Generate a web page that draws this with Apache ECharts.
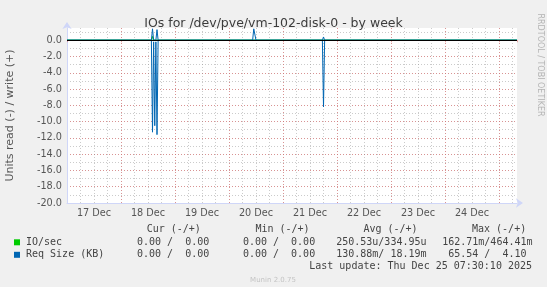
<!DOCTYPE html>
<html><head><meta charset="utf-8">
<script src="https://cdn.jsdelivr.net/npm/echarts@6/dist/echarts.min.js"></script>
<style>html,body{margin:0;padding:0;background:#F0F0F0;}#c{width:547px;height:287px;}</style>
</head><body><div id="c"></div>
<script>
// ---- data ----
const chartTitle = 'IOs for /dev/pve/vm-102-disk-0 - by week';
const yAxisTitle = 'Units read (-) / write (+)';
const watermark = 'RRDTOOL / TOBI OETIKER';
const footer = 'Munin 2.0.75';
const lastUpdate = 'Last update: Thu Dec 25 07:30:10 2025';
const dayLabels = ['17 Dec', '18 Dec', '19 Dec', '20 Dec', '21 Dec', '22 Dec', '23 Dec', '24 Dec'];
const xStart = '2025-12-17 00:00';
const xEnd = '2025-12-25 08:00';
const yMin = -20, yMax = 1.5;

const ioReadTimes = ['2025-12-17 00:00', '2025-12-18 13:30', '2025-12-18 14:00', '2025-12-18 14:30', '2025-12-25 08:00'];
const ioReadValues = [0, 0, -0.16, 0, 0];
const ioWriteTimes = ['2025-12-17 00:00', '2025-12-18 13:30', '2025-12-18 14:00', '2025-12-18 14:30', '2025-12-25 08:00'];
const ioWriteValues = [0, 0, 0.46, 0, 0];

const reqReadTimes = ['2025-12-17 00:00', '2025-12-18 13:30', '2025-12-18 14:00', '2025-12-18 14:30', '2025-12-18 15:00',
  '2025-12-18 15:30', '2025-12-18 16:00', '2025-12-18 16:30', '2025-12-21 17:30', '2025-12-21 18:00', '2025-12-21 18:30', '2025-12-25 08:00'];
const reqReadValues = [0, 0, -11.3, -0.2, -10.5, -0.2, -11.6, 0, 0, -8.2, 0, 0];
const reqWriteTimes = ['2025-12-17 00:00', '2025-12-18 13:30', '2025-12-18 14:00', '2025-12-18 14:30', '2025-12-18 15:30',
  '2025-12-18 16:00', '2025-12-18 16:30', '2025-12-20 10:30', '2025-12-20 11:00', '2025-12-20 11:30', '2025-12-20 12:00',
  '2025-12-21 17:30', '2025-12-21 18:00', '2025-12-21 18:30', '2025-12-25 08:00'];
const reqWriteValues = [0, 0, 1.4, 0, 0, 1.3, 0, 0, 1.4, 1.4, 0, 0, 0.4, 0, 0];

const legendHeaders = ['Cur (-/+)', 'Min (-/+)', 'Avg (-/+)', 'Max (-/+)'];
const legendNames = ['IO/sec', 'Req Size (KB)'];
const ioStats = ['0.00 /  0.00', '0.00 /  0.00', '250.53u/334.95u', '162.71m/464.41m'];
const reqStats = ['0.00 /  0.00', '0.00 /  0.00', '130.88m/ 18.19m', ' 65.54 /  4.10'];

// ---- style ----
const C = { io: '#00CC00', req: '#0066B3', axis: '#CFD6F8', grid: 'rgba(140,140,140,0.45)', mgrid: 'rgba(225,110,110,0.6)', text: '#555' };
const HOUR = 3600000, DAY = 24 * HOUR;

function t(s) {
  const [d, h] = s.split(' ');
  const [Y, M, D] = d.split('-').map(Number);
  const [hh, mm] = h.split(':').map(Number);
  return Date.UTC(Y, M - 1, D, hh, mm);
}
function pairs(ts, vs) { return ts.map((s, i) => [t(s), vs[i]]); }
const xMin = t(xStart), xMax = t(xEnd);

const chart = echarts.init(document.getElementById('c'), null, { renderer: 'canvas' });
const dotted = [1, 2];
const mono = '10px "DejaVu Sans Mono"';
const gfx = [];
function txt(text, x, y, opts) {
  gfx.push(Object.assign({ type: 'text', x: x, y: y, silent: true,
    style: Object.assign({ text: text, font: mono, fill: '#444', align: 'left', verticalAlign: 'middle',
      textAlign: 'left', textVerticalAlign: 'middle' }, opts || {}) }));
}
const headerX = [146.7, 255.4, 363.4, 472];
const colX = [137, 242.9, 336.2, 442.2];
legendHeaders.forEach((h, i) => txt(h, headerX[i], 229.5));
const rowsY = [242.3, 254.8];
[ioStats, reqStats].forEach((row, r) => {
  gfx.push({ type: 'rect', silent: true, shape: { x: 14, y: rowsY[r] - 3, width: 6, height: 6 }, style: { fill: [C.io, C.req][r] } });
  txt(legendNames[r], 26, rowsY[r]);
  row.forEach((s, i) => txt(s, colX[i], rowsY[r]));
});
txt(lastUpdate, 532, 266.8, { align: 'right', textAlign: 'right' });
txt(footer, 273, 280, { font: '7px "DejaVu Sans"', fill: '#c4c4c4', align: 'center', textAlign: 'center' });
gfx.push({ type: 'text', x: 540, y: 65, rotation: -Math.PI / 2, silent: true,
  style: { text: watermark, font: '8px "DejaVu Sans"', fill: '#b4b4b4', align: 'center', verticalAlign: 'middle',
    textAlign: 'center', textVerticalAlign: 'middle' } });
gfx.push({ type: 'text', x: 10, y: 115.5, rotation: Math.PI / 2, silent: true,
  style: { text: yAxisTitle, font: '11px "DejaVu Sans"', fill: C.text, align: 'center', verticalAlign: 'middle',
    textAlign: 'center', textVerticalAlign: 'middle' } });

const baseX = { type: 'value', min: xMin, max: xMax, position: 'bottom', axisLabel: { show: false }, axisTick: { show: false }, axisLine: { show: false } };
const baseY = { type: 'value', min: yMin, max: yMax, position: 'left', axisLabel: { show: false }, axisTick: { show: false }, axisLine: { show: false } };

chart.setOption({
  animation: false,
  backgroundColor: '#F0F0F0',
  title: { text: chartTitle, left: 'center', top: 12, textStyle: { fontFamily: 'DejaVu Sans', fontSize: 12.5, fontWeight: 'normal', color: '#3c3c3c' } },
  grid: { left: 67, top: 28, width: 450, height: 175, show: true, backgroundColor: '#fff', borderWidth: 0, containLabel: false, outerBoundsMode: 'none' },
  xAxis: [
    Object.assign({}, baseX, { interval: 6 * HOUR,
      splitLine: { show: true, showMinLine: false, showMaxLine: false, lineStyle: { color: C.grid, type: dotted, width: 1 } },
      axisLabel: { show: true, margin: 5, color: C.text, fontFamily: 'DejaVu Sans', fontSize: 9.7,
        formatter: v => { const off = v - xMin; return (off % DAY === 12 * HOUR) ? (dayLabels[Math.floor(off / DAY)] || '') : ''; } },
      axisLine: { show: true, onZero: false, lineStyle: { color: C.axis, width: 1 }, symbol: ['none', 'arrow'], symbolSize: [7, 7], symbolOffset: [0, 6] } }),
    Object.assign({}, baseX, { interval: DAY,
      splitLine: { show: true, showMinLine: false, showMaxLine: false, lineStyle: { color: C.mgrid, type: dotted, width: 1 } },
      axisTick: { show: true, length: 2, lineStyle: { color: C.mgrid } } })
  ],
  yAxis: [
    Object.assign({}, baseY, { interval: 1,
      splitLine: { show: true, showMinLine: false, showMaxLine: false, lineStyle: { color: C.grid, type: dotted, width: 1 } },
      axisLine: { show: true, onZero: false, lineStyle: { color: C.axis, width: 1 }, symbol: ['none', 'arrow'], symbolSize: [7, 7], symbolOffset: [0, 6] } }),
    Object.assign({}, baseY, { interval: 2,
      splitLine: { show: true, showMinLine: false, showMaxLine: false, lineStyle: { color: C.mgrid, type: dotted, width: 1 } },
      axisLabel: { show: true, margin: 5, color: C.text, fontFamily: 'DejaVu Sans', fontSize: 9.7,
        formatter: v => (Math.abs(v % 2) < 1e-9 ? v.toFixed(1) : '') } })
  ],
  series: [
    { name: 'io_read', type: 'line', xAxisIndex: 0, yAxisIndex: 0, data: pairs(ioReadTimes, ioReadValues), showSymbol: false, lineStyle: { color: C.io, width: 1 }, silent: true },
    { name: 'io_write', type: 'line', xAxisIndex: 0, yAxisIndex: 0, data: pairs(ioWriteTimes, ioWriteValues), showSymbol: false, lineStyle: { color: C.io, width: 1 }, silent: true },
    { name: 'req_read', type: 'line', xAxisIndex: 0, yAxisIndex: 0, data: pairs(reqReadTimes, reqReadValues), showSymbol: false, lineStyle: { color: C.req, width: 1 }, silent: true },
    { name: 'req_write', type: 'line', xAxisIndex: 0, yAxisIndex: 0, data: pairs(reqWriteTimes, reqWriteValues), showSymbol: false, lineStyle: { color: C.req, width: 1 }, silent: true,
      markLine: { silent: true, symbol: 'none', label: { show: false }, lineStyle: { color: '#000', width: 1, type: 'solid' }, data: [{ yAxis: 0 }] } }
  ],
  graphic: gfx
});
</script></body></html>
